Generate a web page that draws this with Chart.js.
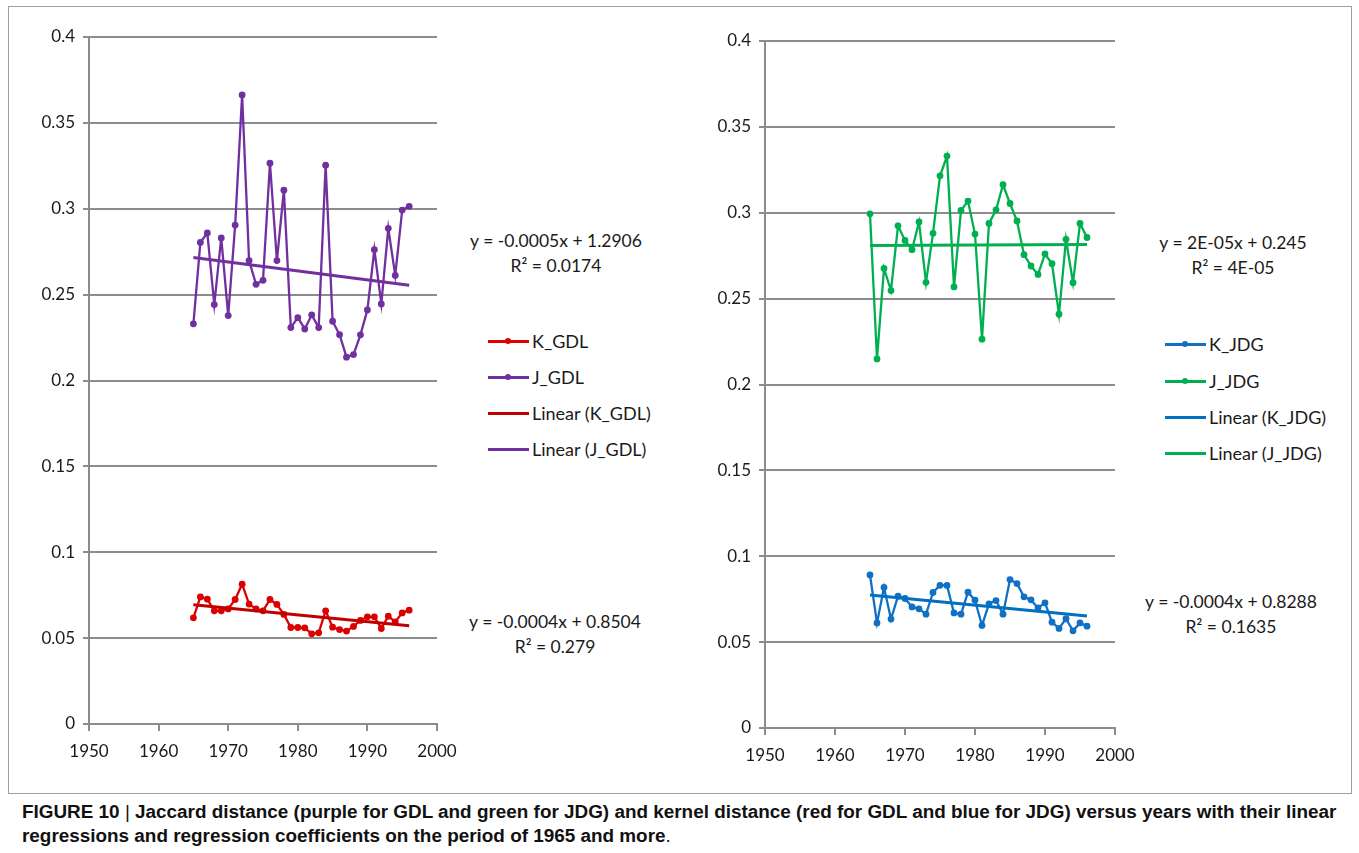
<!DOCTYPE html>
<html>
<head>
<meta charset="utf-8">
<script src="https://cdn.jsdelivr.net/npm/chart.js@4.4.1/dist/chart.umd.min.js"></script>
<style>
  html, body { margin: 0; padding: 0; background: #fff; }
  body { width: 1359px; height: 853px; position: relative; overflow: hidden; font-family: Lato, "Open Sans", sans-serif; color: #1a1a1a; }
  .frame { position: absolute; left: 8px; top: 6px; width: 1344px; height: 788px; border: 1px solid #a0a0a0; box-sizing: border-box; }
  .panel { position: absolute; top: 0; }
  .eq { position: absolute; text-align: center; font-size: 17.5px; line-height: 25px; white-space: nowrap; transform: translateX(-50%); }
  .legend { position: absolute; font-size: 18px; }
  .legend .row { position: absolute; left: 0; height: 24px; display: flex; align-items: center; white-space: nowrap; transform: translateY(-50%); }
  .legend .mark { position: relative; width: 41px; height: 24px; margin-right: 3px; }
  .legend .mark .ln { position: absolute; left: 0; right: 0; top: 10.5px; height: 3px; }
  .legend .mark .pt { position: absolute; left: 17px; top: 9px; width: 6px; height: 6px; border-radius: 50%; }
  .caption { position: absolute; left: 22px; top: 800px; font-family: "Liberation Sans", Arial, sans-serif; font-size: 18.9px; line-height: 24px; color: #111; white-space: nowrap; }
  .caption .bar { font-weight: normal; }
</style>
</head>
<body>
<div class="frame"></div>
<div class="panel" style="left:0px"><canvas id="gdl" width="460" height="780"></canvas></div>
<div class="panel" style="left:676px"><canvas id="jdg" width="460" height="780"></canvas></div>
<div id="legGDL" class="legend" style="left:488px; top:0px"></div>
<div id="legJDG" class="legend" style="left:1165px; top:0px"></div>
<div class="eq" style="left:556px; top:228px">y = -0.0005x + 1.2906<br>R² = 0.0174</div>
<div class="eq" style="left:555px; top:609px">y = -0.0004x + 0.8504<br>R² = 0.279</div>
<div class="eq" style="left:1233px; top:230px">y = 2E-05x + 0.245<br>R² = 4E-05</div>
<div class="eq" style="left:1231px; top:589px">y = -0.0004x + 0.8288<br>R² = 0.1635</div>
<div class="caption"><b>FIGURE 10 <span class="bar">|</span> Jaccard distance (purple for GDL and green for JDG) and kernel distance (red for GDL and blue for JDG) versus years with their linear</b><br><b>regressions and regression coefficients on the period of 1965 and more</b>.</div>
<script>
// Years of observation
const years = [1965,1966,1967,1968,1969,1970,1971,1972,1973,1974,1975,1976,1977,1978,1979,1980,
               1981,1982,1983,1984,1985,1986,1987,1988,1989,1990,1991,1992,1993,1994,1995,1996];

// Kernel distance, GDL
const kGDL = [0.0618,0.0740,0.0727,0.0659,0.0659,0.0670,0.0725,0.0814,0.0698,0.0670,0.0659,0.0725,
              0.0696,0.0638,0.0562,0.0562,0.0560,0.0525,0.0531,0.0659,0.0564,0.0550,0.0541,0.0568,
              0.0603,0.0624,0.0624,0.0556,0.0628,0.0595,0.0647,0.0663];
// Jaccard distance, GDL
const jGDL = [0.2330,0.2804,0.2859,0.2442,0.2830,0.2378,0.2905,0.3663,0.2698,0.2560,0.2583,0.3265,
              0.2698,0.3108,0.2308,0.2366,0.2300,0.2382,0.2308,0.3254,0.2345,0.2267,0.2136,0.2151,
              0.2266,0.2411,0.2762,0.2446,0.2886,0.2612,0.2992,0.3014];
// Kernel distance, JDG
const kJDG = [0.0891,0.0612,0.0818,0.0634,0.0767,0.0754,0.0705,0.0694,0.0663,0.0789,0.0831,0.0830,
              0.0670,0.0663,0.0791,0.0744,0.0597,0.0723,0.0742,0.0663,0.0864,0.0841,0.0764,0.0746,
              0.0699,0.0729,0.0616,0.0580,0.0636,0.0566,0.0612,0.0593];
// Jaccard distance, JDG
const jJDG = [0.2994,0.2149,0.2676,0.2547,0.2924,0.2839,0.2785,0.2946,0.2595,0.2880,0.3215,0.3330,
              0.2568,0.3014,0.3068,0.2876,0.2264,0.2938,0.3016,0.3163,0.3054,0.2952,0.2756,0.2690,
              0.2641,0.2760,0.2703,0.2409,0.2845,0.2593,0.2938,0.2856];

// Axis tick labels
const xTickLabels = ['1950','1960','1970','1980','1990','2000'];
const yTickLabels = ['0','0.05','0.1','0.15','0.2','0.25','0.3','0.35','0.4'];

const GRID = '#8c8c8c';
const TICK_FONT = { family: 'Lato, "Open Sans", sans-serif', size: 17 };

function toPoints(xs, ys) { return xs.map((x, i) => ({ x: x, y: ys[i] })); }

// Least-squares trend line over the same years
function trend(xs, ys) {
  const n = xs.length;
  const mx = xs.reduce((a, b) => a + b, 0) / n;
  const my = ys.reduce((a, b) => a + b, 0) / n;
  let sxy = 0, sxx = 0;
  for (let i = 0; i < n; i++) { sxy += (xs[i] - mx) * (ys[i] - my); sxx += (xs[i] - mx) ** 2; }
  const m = sxy / sxx, b = my - m * mx;
  return [xs[0], xs[n - 1]].map(x => ({ x: x, y: m * x + b }));
}

function seriesDS(label, ys, color) {
  return { label, data: toPoints(years, ys), borderColor: color, backgroundColor: color,
           borderWidth: 2.3, pointRadius: 3.4, pointBorderWidth: 0, pointHoverRadius: 3.4,
           tension: 0, order: 2, showMark: true };
}
function trendDS(label, ys, color) {
  return { label, data: trend(years, ys), borderColor: color, backgroundColor: color,
           borderWidth: 3, pointRadius: 0, tension: 0, order: 1, showMark: false };
}

function makeChart(id, datasets, padTop, padRight, xHeight) {
  return new Chart(document.getElementById(id), {
    type: 'line',
    data: { datasets },
    options: {
      responsive: false,
      animation: false,
      events: [],
      layout: { padding: { top: padTop, right: padRight, left: 0, bottom: 0 } },
      plugins: { legend: { display: false }, tooltip: { enabled: false } },
      scales: {
        x: {
          type: 'linear', min: 1950, max: 2000,
          ticks: { stepSize: 10, color: '#1a1a1a', font: TICK_FONT, padding: 10, maxRotation: 0,
                   callback: (v, i) => xTickLabels[i] },
          grid: { drawOnChartArea: false, drawTicks: true, tickLength: 7, color: GRID, lineWidth: 2 },
          border: { display: true, color: GRID, width: 2 },
          afterFit: s => { s.height = xHeight; s.paddingLeft = 0; s.paddingRight = 0; }
        },
        y: {
          min: 0, max: 0.4,
          ticks: { stepSize: 0.05, color: '#1a1a1a', font: TICK_FONT, padding: 8,
                   callback: (v, i) => yTickLabels[i] },
          grid: { drawOnChartArea: true, drawTicks: true, tickLength: 6, color: GRID, lineWidth: 2 },
          border: { display: true, color: GRID, width: 2 },
          afterFit: s => { s.width = 89; s.paddingTop = 0; s.paddingBottom = 0; }
        }
      }
    }
  });
}

const gdl = makeChart('gdl', [
  seriesDS('K_GDL', kGDL, '#DD0000'),
  seriesDS('J_GDL', jGDL, '#7030A0'),
  trendDS('Linear (K_GDL)', kGDL, '#C00000'),
  trendDS('Linear (J_GDL)', jGDL, '#7030A0')
], 37, 23, 56);

const jdg = makeChart('jdg', [
  seriesDS('K_JDG', kJDG, '#1070C4'),
  seriesDS('J_JDG', jJDG, '#00B050'),
  trendDS('Linear (K_JDG)', kJDG, '#0070C0'),
  trendDS('Linear (J_JDG)', jJDG, '#00B050')
], 41, 21, 52);

// Legend built from each chart's datasets
function buildLegend(chart, elId, rowYs) {
  const el = document.getElementById(elId);
  chart.data.datasets.forEach((ds, i) => {
    const row = document.createElement('div');
    row.className = 'row';
    row.style.top = rowYs[i] + 'px';
    const mark = document.createElement('div');
    mark.className = 'mark';
    const ln = document.createElement('div');
    ln.className = 'ln';
    ln.style.background = ds.borderColor;
    mark.appendChild(ln);
    if (ds.showMark) {
      const pt = document.createElement('div');
      pt.className = 'pt';
      pt.style.background = ds.borderColor;
      mark.appendChild(pt);
    }
    const txt = document.createElement('span');
    txt.textContent = ds.label;
    row.appendChild(mark);
    row.appendChild(txt);
    el.appendChild(row);
  });
}
buildLegend(gdl, 'legGDL', [341, 377, 413, 449]);
buildLegend(jdg, 'legJDG', [344, 381, 417, 453]);
</script>
</body>
</html>
